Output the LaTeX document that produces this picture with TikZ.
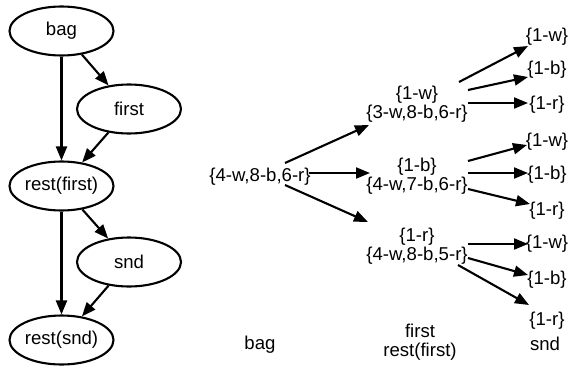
\documentclass[tikz,border=0pt]{standalone}
\usepackage{fontspec}
\setmainfont{Liberation Sans}
\usetikzlibrary{shapes.geometric,arrows.meta,calc}
\begin{document}
\begin{tikzpicture}[x=1pt,y=-1pt,
  every node/.style={font=\fontsize{18.6}{18.6}\selectfont, inner sep=0pt},
  oval/.style={ellipse, draw, line width=2.1pt, minimum width=104pt, minimum height=49pt},
  lbl/.style={align=center},
  arr/.style={line width=2.1pt, -{Triangle[length=14pt,width=11pt]}},
  ]
\useasboundingbox (0,0) rectangle (568,367);
% left graph
\node[oval] (bag) at (61.5,31) {bag};
\node[oval] (first) at (129,109) {first};
\node[oval] (rf) at (61.5,186) {rest(first)};
\node[oval] (snd) at (129,262) {snd};
\node[oval] (rsnd) at (61.5,340) {rest(snd)};
\draw[arr] (bag) -- (rf);
\draw[arr] (bag) -- (first);
\draw[arr] (first) -- (rf);
\draw[arr] (rf) -- (rsnd);
\draw[arr] (rf) -- (snd);
\draw[arr] (snd) -- (rsnd);
% right tree
\node[lbl] (root) at (260,177) {\{4-w,8-b,6-r\}};
\node[lbl] (m1) at (417,104) {\{1-w\}\\\{3-w,8-b,6-r\}};
\node[lbl] (m2) at (417,176) {\{1-b\}\\\{4-w,7-b,6-r\}};
\node[lbl] (m3) at (417,246) {\{1-r\}\\\{4-w,8-b,5-r\}};
\node (r11) at (547,37) {\{1-w\}};
\node (r12) at (547,70) {\{1-b\}};
\node (r13) at (547,105) {\{1-r\}};
\node (r21) at (547,142) {\{1-w\}};
\node (r22) at (547,175) {\{1-b\}};
\node (r23) at (547,211) {\{1-r\}};
\node (r31) at (547,244) {\{1-w\}};
\node (r32) at (547,280) {\{1-b\}};
\node (r33) at (547,321) {\{1-r\}};
\node (lb) at (260,345) {bag};
\node[lbl] (lf) at (420,342) {first\\rest(first)};
\node (ls) at (545,344) {snd};
\draw[arr] ($(root)+(25,-14)$) -- ($(m1)+(-48,21)$);
\draw[arr] ($(root)+(49,-4)$) -- ($(m2)+(-47,-3)$);
\draw[arr] ($(root)+(25,8)$) -- ($(m3)+(-49,-24)$);
\draw[arr] ($(m1)+(42,-22)$) -- ($(r11)+(-19,9)$);
\draw[arr] ($(m1)+(51,-14)$) -- ($(r12)+(-19,7)$);
\draw[arr] ($(m1)+(51,-1)$) -- ($(r13)+(-19,-2)$);
\draw[arr] ($(m2)+(51,-15)$) -- ($(r21)+(-20,3)$);
\draw[arr] ($(m2)+(51,-3)$) -- ($(r22)+(-19,-2)$);
\draw[arr] ($(m2)+(51,13)$) -- ($(r23)+(-17,-7)$);
\draw[arr] ($(m3)+(51,-2)$) -- ($(r31)+(-19,0)$);
\draw[arr] ($(m3)+(51,12)$) -- ($(r32)+(-19,-5)$);
\draw[arr] ($(m3)+(41,19)$) -- ($(r33)+(-18,-16)$);
\end{tikzpicture}
\end{document}
